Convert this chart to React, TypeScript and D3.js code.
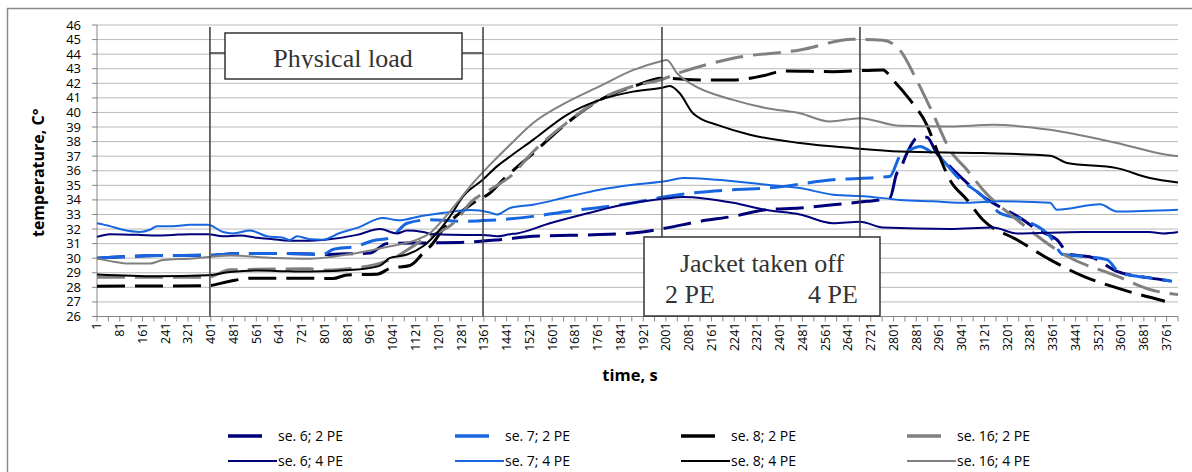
import React from 'react';
import * as d3 from 'd3';

type Pt = [number, number];

// time (s), temperature (°C)
const se6_2PE: Pt[] = [[1,30.0],[92,30.1],[212,30.18],[391,30.2],[504,30.32],[620,30.32],[750,30.28],[795,30.25],[880,30.3],[960,30.35],[1020,31.0],[1182,31.05],[1302,31.1],[1417,31.27],[1534,31.5],[1769,31.62],[1885,31.73],[2004,32.08],[2121,32.53],[2237,32.87],[2356,33.33],[2472,33.44],[2588,33.67],[2708,33.9],[2788,34.13],[2813,35.84],[2823,36.07],[2848,37.2],[2883,38.24],[2918,38.3],[2953,37.2],[2999,36.3],[3115,34.24],[3256,32.64],[3305,31.96],[3375,31.27],[3421,30.25],[3491,30.1],[3586,29.1],[3702,28.65],[3780,28.42]];
const se7_2PE: Pt[] = [[1,30.0],[92,30.1],[212,30.18],[391,30.2],[504,30.32],[620,30.32],[750,30.28],[795,30.25],[830,30.6],[915,30.82],[970,31.2],[1031,31.39],[1091,32.4],[1172,32.64],[1288,32.53],[1382,32.6],[1534,32.87],[1653,33.21],[1885,33.79],[2004,34.24],[2237,34.7],[2356,34.81],[2588,35.38],[2788,35.61],[2823,37.0],[2859,37.44],[2894,37.67],[2939,37.21],[2964,36.9],[3024,35.61],[3115,34.24],[3175,33.1],[3256,32.64],[3351,31.5],[3397,30.25],[3467,30.13],[3551,29.9],[3597,28.99],[3702,28.65],[3780,28.42]];
const se8_2PE: Pt[] = [[1,28.08],[391,28.12],[468,28.42],[539,28.62],[750,28.62],[830,28.6],[880,28.85],[985,28.9],[1031,29.3],[1101,29.5],[1150,30.4],[1172,30.8],[1217,31.96],[1323,33.79],[1382,34.47],[1428,35.38],[1534,37.2],[1653,39.27],[1769,40.86],[1885,41.77],[1987,42.35],[2121,42.23],[2237,42.23],[2356,42.58],[2412,42.85],[2588,42.8],[2764,42.92],[2799,42.23],[2859,40.86],[2918,39.15],[2953,37.44],[2999,35.38],[3059,34.01],[3115,32.64],[3235,31.27],[3351,29.9],[3467,28.77],[3586,27.96],[3755,27.05]];
const se16_2PE: Pt[] = [[1,28.7],[391,28.7],[468,29.2],[750,29.27],[795,29.17],[900,29.3],[1031,29.9],[1150,31.3],[1266,32.64],[1312,33.79],[1382,34.7],[1453,35.6],[1534,37.3],[1653,39.3],[1769,40.9],[1885,41.8],[1980,42.23],[2061,42.8],[2237,43.72],[2472,44.29],[2658,45.02],[2764,44.95],[2823,44.29],[2883,42.2],[2939,39.95],[2999,37.44],[3059,36.07],[3115,34.7],[3235,32.64],[3411,30.13],[3586,28.77],[3702,27.85],[3801,27.5]];
const se6_4PE: Pt[] = [[1,31.46],[47,31.65],[152,31.6],[212,31.55],[268,31.6],[328,31.65],[391,31.65],[444,31.5],[504,31.55],[563,31.4],[620,31.3],[679,31.2],[750,31.2],[795,31.25],[915,31.6],[996,32.0],[1055,31.7],[1091,31.9],[1147,31.8],[1182,31.65],[1300,31.6],[1358,31.6],[1407,31.5],[1453,31.65],[1477,31.7],[1593,32.4],[1709,33.0],[1885,33.8],[2004,34.1],[2061,34.2],[2237,33.8],[2356,33.3],[2472,33.0],[2588,32.4],[2683,32.5],[2764,32.1],[2999,32.0],[3150,32.1],[3235,31.7],[3467,31.8],[3700,31.8],[3750,31.7],[3801,31.8]];
const se7_4PE: Pt[] = [[1,32.4],[47,32.2],[92,31.95],[152,31.8],[187,31.95],[212,32.2],[268,32.2],[328,32.3],[391,32.3],[444,31.8],[479,31.7],[539,31.9],[599,31.5],[655,31.4],[679,31.25],[704,31.5],[750,31.3],[795,31.27],[855,31.73],[915,32.08],[1006,32.76],[1060,32.6],[1147,32.92],[1231,33.14],[1312,33.3],[1382,33.14],[1407,32.99],[1453,33.45],[1534,33.67],[1653,34.2],[1769,34.7],[1885,35.04],[2004,35.3],[2061,35.5],[2181,35.38],[2356,35.04],[2472,34.81],[2588,34.36],[2708,34.24],[2823,34.0],[2939,33.9],[3059,33.8],[3175,33.9],[3351,33.8],[3375,33.33],[3527,33.7],[3586,33.21],[3801,33.33]];
const se8_4PE: Pt[] = [[1,28.88],[212,28.76],[391,28.83],[468,29.05],[563,29.16],[679,29.1],[750,29.08],[915,29.22],[996,29.49],[1031,30.02],[1091,30.25],[1147,30.82],[1196,31.73],[1242,32.87],[1288,34.24],[1358,35.4],[1407,36.3],[1453,36.98],[1534,38.12],[1653,39.84],[1769,40.86],[1885,41.43],[1987,41.7],[2015,41.82],[2050,41.3],[2096,39.95],[2121,39.6],[2181,39.15],[2296,38.47],[2472,37.9],[2658,37.55],[2823,37.32],[3115,37.21],[3351,37.03],[3411,36.53],[3586,36.18],[3702,35.5],[3801,35.2]];
const se16_4PE: Pt[] = [[1,29.97],[47,29.8],[117,29.63],[187,29.63],[233,29.88],[328,29.97],[468,30.18],[620,30.02],[750,29.97],[915,30.36],[1031,30.82],[1126,31.27],[1172,31.73],[1217,32.64],[1266,33.79],[1323,35.16],[1382,36.4],[1453,37.78],[1534,39.27],[1653,40.7],[1769,41.8],[1885,42.9],[1980,43.49],[2004,43.6],[2040,42.69],[2096,41.89],[2237,40.86],[2356,40.29],[2472,39.95],[2577,39.38],[2683,39.61],[2823,39.08],[2999,39.04],[3150,39.15],[3351,38.81],[3586,37.9],[3762,37.1],[3801,37.0]];

const seriesNames = ['se. 6; 2 PE', 'se. 7; 2 PE', 'se. 8; 2 PE', 'se. 16; 2 PE', 'se. 6; 4 PE', 'se. 7; 4 PE', 'se. 8; 4 PE', 'se. 16; 4 PE'];
const seriesData = [se6_2PE, se7_2PE, se8_2PE, se16_2PE, se6_4PE, se7_4PE, se8_4PE, se16_4PE];
const seriesColors = ['#00007a', '#1766e0', '#000000', '#808080', '#00007a', '#1766e0', '#000000', '#808080'];
const seriesDashed = [true, true, true, true, false, false, false, false];

const xTickLabels = [1,81,161,241,321,401,481,561,641,721,801,881,961,1041,1121,1201,1281,1361,1441,1521,1601,1681,1761,1841,1921,2001,2081,2161,2241,2321,2401,2481,2561,2641,2721,2801,2881,2961,3041,3121,3201,3281,3361,3441,3521,3601,3681,3761];
const yTicks = [26,27,28,29,30,31,32,33,34,35,36,37,38,39,40,41,42,43,44,45,46];
const markerTimes = [398, 1358, 1987, 2683];

const W = 1192, H = 472;
const L = 97, R = 1178, T = 25, B = 316.5;
const SANS = "'Open Sans', 'Liberation Sans', sans-serif";
const SERIF = "'Liberation Serif', 'DejaVu Serif', serif";

export default function App() {
  const x = d3.scaleLinear().domain([1, 3801]).range([L, R]);
  const y = d3.scaleLinear().domain([26, 46]).range([B, T]);
  const line = d3.line<Pt>().x(d => x(d[0])).y(d => y(d[1])).curve(d3.curveMonotoneX);
  const minorTicks = d3.range(1, 3802, 40);

  const legendCols = [228, 455, 681, 907];
  const legendRows = [436, 461];

  return (
    <svg width={W} height={H} style={{ position: 'absolute', left: 0, top: 0, background: '#fff' }}>
      <rect x={0} y={0} width={W} height={H} fill="#fff" />
      <rect x={7.5} y={8.5} width={1300} height={600} fill="none" stroke="#8a8a8a" strokeWidth={1.5} />
      {yTicks.map(t => (
        <line key={'g' + t} x1={L} x2={R} y1={y(t)} y2={y(t)} stroke="#b9b9b9" strokeWidth={1} />
      ))}
      <line x1={L} x2={L} y1={T} y2={B} stroke="#868686" />
      <line x1={L} x2={R} y1={B} y2={B} stroke="#868686" />
      {yTicks.map(t => (
        <g key={'yt' + t}>
          <line x1={L - 5} x2={L} y1={y(t)} y2={y(t)} stroke="#868686" />
          <text x={81} y={y(t)} dy="0.35em" textAnchor="end" fontFamily={SANS} fontSize={13} fill="#000">{t}</text>
        </g>
      ))}
      {minorTicks.map(t => (
        <line key={'xt' + t} x1={x(t)} x2={x(t)} y1={B} y2={B + 5} stroke="#868686" />
      ))}
      {xTickLabels.map(t => (
        <text key={'xl' + t} transform={`translate(${x(t)},${B + 6}) rotate(-90)`} dy="0.35em" textAnchor="end" fontFamily={SANS} fontSize={12.5} fill="#000">{t}</text>
      ))}
      <text transform={`translate(44,${(T + B) / 2 + 2}) rotate(-90)`} textAnchor="middle" fontFamily={SANS} fontWeight="bold" fontSize={16} fill="#000">temperature, C°</text>
      <text x={630} y={381} textAnchor="middle" fontFamily={SANS} fontWeight="bold" fontSize={16.5} fill="#000">time, s</text>

      {seriesData.map((d, i) => (
        <path key={'s' + i} d={line(d) || ''} fill="none" stroke={seriesColors[i]}
          strokeWidth={seriesDashed[i] ? 3 : 2} strokeDasharray={seriesDashed[i] ? '28 10' : undefined}
          strokeLinejoin="round" />
      ))}

      {markerTimes.map(t => (
        <line key={'m' + t} x1={x(t)} x2={x(t)} y1={27} y2={B} stroke="#3a3a3a" strokeWidth={1.5} />
      ))}

      <line x1={x(markerTimes[0])} x2={225} y1={53} y2={53} stroke="#3a3a3a" strokeWidth={1.5} />
      <line x1={462} x2={x(markerTimes[1])} y1={53} y2={53} stroke="#3a3a3a" strokeWidth={1.5} />
      <defs>
        <clipPath id="plclip"><rect x={225} y={33} width={237} height={35.5} /></clipPath>
      </defs>
      <rect x={225} y={33} width={237} height={46} fill="#fff" stroke="#333" strokeWidth={1.5} />
      <text x={343} y={67} textAnchor="middle" fontFamily={SERIF} fontSize={26} fill="#333" clipPath="url(#plclip)">Physical load</text>

      <rect x={644} y={237} width={236} height={79} fill="#fff" stroke="#333" strokeWidth={1.5} />
      <text x={762} y={272} textAnchor="middle" fontFamily={SERIF} fontSize={26} fill="#333">Jacket taken off</text>
      <text x={665} y={303} fontFamily={SERIF} fontSize={26} fill="#333">2 PE</text>
      <text x={808} y={303} fontFamily={SERIF} fontSize={26} fill="#333">4 PE</text>

      {seriesNames.map((name, i) => {
        const col = i % 4, row = Math.floor(i / 4);
        const lx = legendCols[col], ly = legendRows[row];
        return (
          <g key={'lg' + i}>
            {seriesDashed[i]
              ? <line x1={lx} x2={lx + 34} y1={ly} y2={ly} stroke={seriesColors[i]} strokeWidth={3.5} />
              : <line x1={lx} x2={lx + 49} y1={ly} y2={ly} stroke={seriesColors[i]} strokeWidth={2} />}
            <text x={lx + 50} y={ly} dy="0.35em" fontFamily={SANS} fontSize={14} fill="#000">{name}</text>
          </g>
        );
      })}
    </svg>
  );
}
